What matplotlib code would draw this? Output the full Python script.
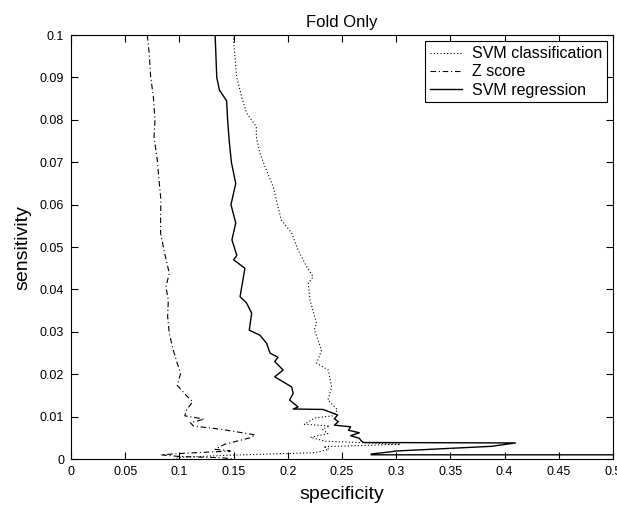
import numpy as np
import matplotlib.pyplot as plt
from matplotlib.ticker import MultipleLocator, FormatStrFormatter

plt.rcParams['font.family'] = ['Liberation Sans', 'DejaVu Sans']

# ===================== DATA (specificity, sensitivity) =====================
svm_cls_x = [0.1497, 0.151, 0.1528, 0.1574, 0.162, 0.171, 0.171, 0.1744, 0.179, 0.1866,
             0.191, 0.194, 0.2036, 0.2095, 0.2174, 0.2234, 0.2189, 0.2205, 0.2266, 0.2245,
             0.2312, 0.2266, 0.2373, 0.2405, 0.237, 0.246, 0.2417, 0.225, 0.2153, 0.2385,
             0.232, 0.237, 0.221, 0.235, 0.304, 0.233, 0.238, 0.225, 0.146, 0.10, 0.095]
svm_cls_y = [0.100, 0.0957, 0.0902, 0.0855, 0.0816, 0.0784, 0.076, 0.0721, 0.069, 0.0642,
             0.0595, 0.0564, 0.0533, 0.0493, 0.0454, 0.043, 0.0415, 0.0375, 0.032, 0.0305,
             0.0257, 0.0226, 0.021, 0.017, 0.0139, 0.0116, 0.0102, 0.0097, 0.0082, 0.0078,
             0.007, 0.006, 0.0051, 0.0042, 0.0035, 0.0029, 0.0023, 0.0015, 0.0009, 0.0004, 0.0]

zscore_x = [0.0704, 0.0722, 0.0735, 0.076, 0.0775, 0.0766, 0.0796, 0.0815, 0.083, 0.0827,
            0.0827, 0.0858, 0.0907, 0.0876, 0.0898, 0.0892, 0.0907, 0.0944, 0.098, 0.1012,
            0.098, 0.106, 0.1123, 0.1067, 0.105, 0.123, 0.11, 0.113, 0.139, 0.17,
            0.165, 0.142, 0.133, 0.147, 0.10, 0.083, 0.10, 0.14, 0.15]
zscore_y = [0.100, 0.0957, 0.0902, 0.0855, 0.080, 0.076, 0.0706, 0.065, 0.0611, 0.0579,
            0.0533, 0.0493, 0.0438, 0.0406, 0.0375, 0.0336, 0.0296, 0.0257, 0.0226, 0.0202,
            0.0174, 0.0151, 0.0135, 0.0116, 0.0102, 0.0094, 0.0086, 0.0078, 0.007, 0.0057,
            0.005, 0.0035, 0.0023, 0.0019, 0.0013, 0.001, 0.0006, 0.0003, 0.0]

svm_reg_x = [0.133, 0.1345, 0.137, 0.1436, 0.1445, 0.146, 0.148, 0.152, 0.1476, 0.152,
             0.1485, 0.153, 0.150, 0.1605, 0.1575, 0.156, 0.162, 0.1667, 0.1645, 0.1744,
             0.1805, 0.1836, 0.191, 0.188, 0.1957, 0.188, 0.2036, 0.205, 0.2017, 0.2095,
             0.205, 0.2326, 0.246, 0.243, 0.2466, 0.243, 0.258, 0.256, 0.266, 0.258,
             0.266, 0.2677, 0.27, 0.41, 0.388, 0.30, 0.295, 0.277, 0.277, 0.6]
svm_reg_y = [0.100, 0.090, 0.087, 0.0845, 0.080, 0.075, 0.070, 0.065, 0.060, 0.0557,
             0.0517, 0.048, 0.047, 0.045, 0.0406, 0.0383, 0.0368, 0.0344, 0.0304, 0.0292,
             0.0273, 0.025, 0.024, 0.023, 0.021, 0.0194, 0.017, 0.0155, 0.0139, 0.0123,
             0.0118, 0.0117, 0.0104, 0.0095, 0.0088, 0.008, 0.0076, 0.0068, 0.0062, 0.0055,
             0.0049, 0.0043, 0.0039, 0.0038, 0.003, 0.0019, 0.0017, 0.0012, 0.001, 0.001]

# ===================== FIGURE =====================
fig = plt.figure(figsize=(6.17, 5.05), dpi=100)
ax = fig.add_axes([0.115, 0.091, 0.8785, 0.8395])

ax.plot(svm_cls_x, svm_cls_y, color='black', lw=0.8, linestyle=(0, (1, 2)),
        label='SVM classification')
ax.plot(zscore_x, zscore_y, color='black', lw=0.8, linestyle=(0, (5, 2.5, 1, 2.5)),
        label='Z score')
ax.plot(svm_reg_x, svm_reg_y, color='black', lw=1.0, linestyle='-',
        label='SVM regression')

ax.set_xlim(0, 0.5)
ax.set_ylim(0, 0.1)
ax.xaxis.set_major_locator(MultipleLocator(0.05))
ax.yaxis.set_major_locator(MultipleLocator(0.01))
ax.xaxis.set_major_formatter(FormatStrFormatter('%g'))
ax.yaxis.set_major_formatter(FormatStrFormatter('%g'))
ax.tick_params(direction='in', top=True, right=True, length=5, width=0.8,
               labelsize=9, pad=5)
for s in ax.spines.values():
    s.set_linewidth(0.8)

ax.set_xlabel('specificity', fontsize=14, labelpad=6)
ax.set_ylabel('sensitivity', fontsize=14, labelpad=6)
ax.set_title('Fold Only', fontsize=12, pad=6)

leg = ax.legend(loc='upper right', fontsize=11.5, handlelength=2.0, borderaxespad=0.4,
                fancybox=False, framealpha=1, edgecolor='black',
                borderpad=0.3, labelspacing=0.2, handletextpad=0.6)
leg.get_frame().set_linewidth(0.8)

fig.savefig('out.png', dpi=100)
